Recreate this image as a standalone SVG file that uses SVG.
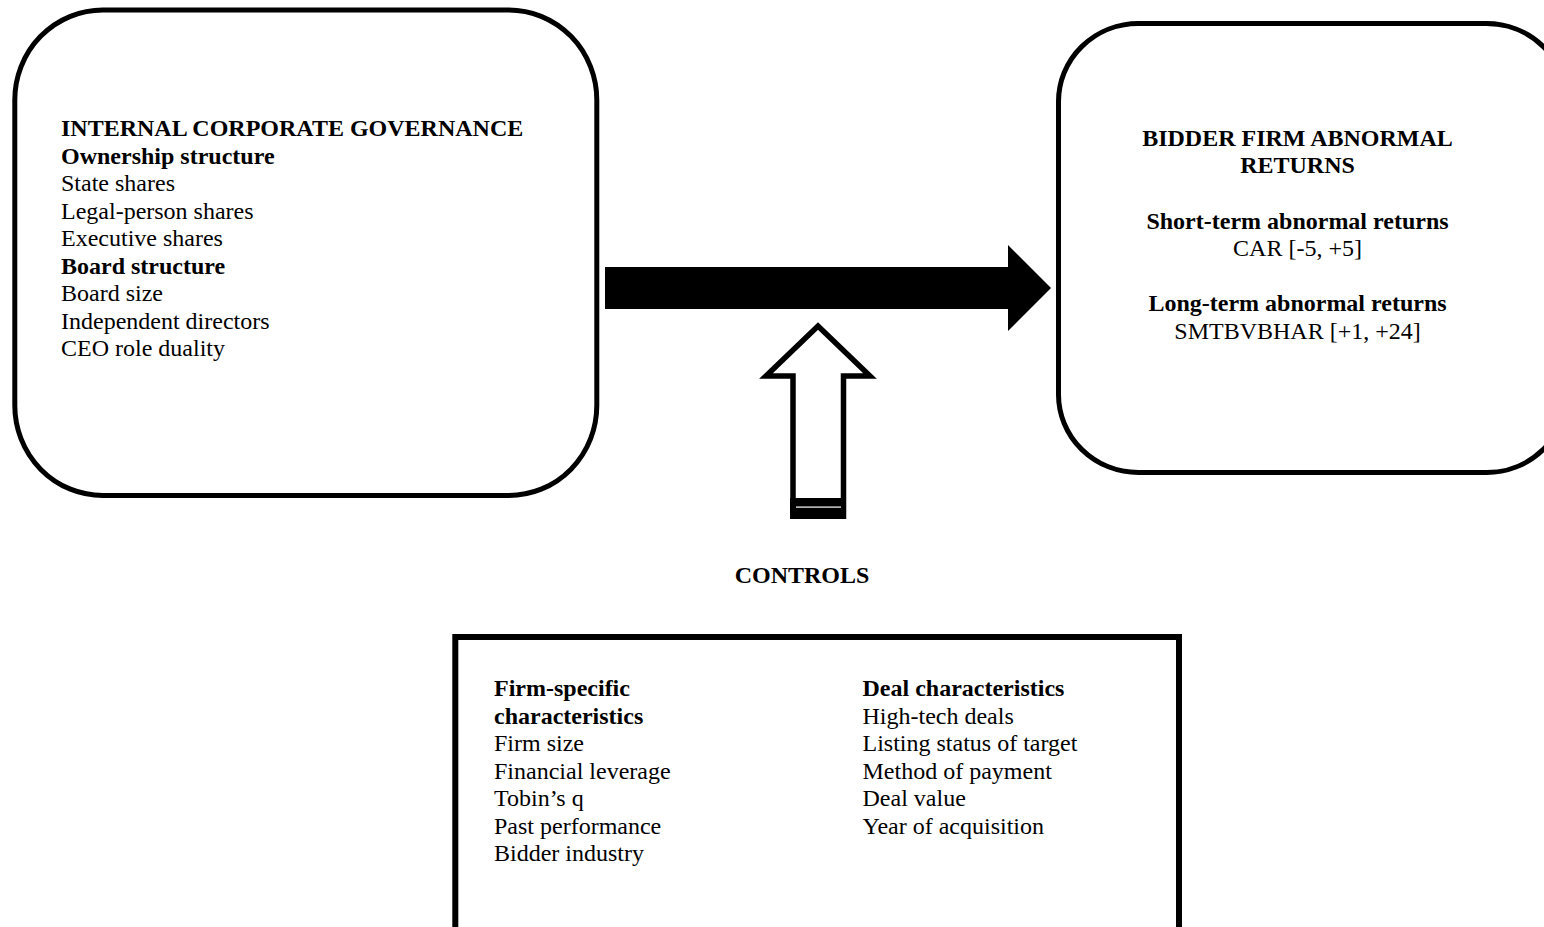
<svg xmlns="http://www.w3.org/2000/svg" width="1544" height="927" viewBox="0 0 1544 927">
<style>
text{font-family:"Liberation Serif","Times New Roman",serif;font-size:24px;fill:#000}
.b{font-weight:bold}
.box{fill:#fff;stroke:#000;stroke-width:5}
.m{text-anchor:middle}
</style>
<rect width="1544" height="927" fill="#fff"/>
<g id="connectors">
<polygon points="605,267 1008,267 1008,245 1051,288 1008,331 1008,309 605,309" fill="#000"/>
<g id="controls-arrow">
<path d="M793,519 L793,376 L766,376 L818,326 L870,376 L843.5,376 L843.5,519" fill="#fff" stroke="#000" stroke-width="5.5" stroke-linejoin="miter"/>
<rect x="790" y="498" width="56" height="21" fill="#000"/>
<rect x="796" y="506.5" width="45" height="1.2" fill="#fff"/>
</g>
</g>
<g id="governance">
<rect class="box" x="14.8" y="10" width="582" height="485.5" rx="88" ry="90"/>
<text x="61" y="136" class="b">INTERNAL CORPORATE GOVERNANCE</text>
<text x="61" y="163.5" class="b">Ownership structure</text>
<text x="61" y="191">State shares</text>
<text x="61" y="218.5">Legal-person shares</text>
<text x="61" y="246">Executive shares</text>
<text x="61" y="273.5" class="b">Board structure</text>
<text x="61" y="301">Board size</text>
<text x="61" y="328.5">Independent directors</text>
<text x="61" y="356">CEO role duality</text>
</g>
<g id="returns">
<rect class="box" x="1058.5" y="23.5" width="508" height="449" rx="80" ry="78"/>
<text x="1297.5" y="145.5" class="b m">BIDDER FIRM ABNORMAL</text>
<text x="1297.5" y="173" class="b m">RETURNS</text>
<text x="1297.5" y="228.5" class="b m">Short-term abnormal returns</text>
<text x="1297.5" y="256" class="m">CAR [-5, +5]</text>
<text x="1297.5" y="311" class="b m">Long-term abnormal returns</text>
<text x="1297.5" y="338.5" class="m">SMTBVBHAR [+1, +24]</text>
</g>
<g id="controls-label">
<text x="802" y="583" class="b m">CONTROLS</text>
</g>
<g id="controls">
<rect x="455.3" y="637" width="723.7" height="320" fill="#fff" stroke="#000" stroke-width="6"/>
<text x="494" y="696" class="b">Firm-specific</text>
<text x="494" y="723.5" class="b">characteristics</text>
<text x="494" y="751">Firm size</text>
<text x="494" y="778.5">Financial leverage</text>
<text x="494" y="806">Tobin’s q</text>
<text x="494" y="833.5">Past performance</text>
<text x="494" y="861">Bidder industry</text>
<text x="862.5" y="696" class="b">Deal characteristics</text>
<text x="862.5" y="723.5">High-tech deals</text>
<text x="862.5" y="751">Listing status of target</text>
<text x="862.5" y="778.5">Method of payment</text>
<text x="862.5" y="806">Deal value</text>
<text x="862.5" y="833.5">Year of acquisition</text>
</g>
</svg>
